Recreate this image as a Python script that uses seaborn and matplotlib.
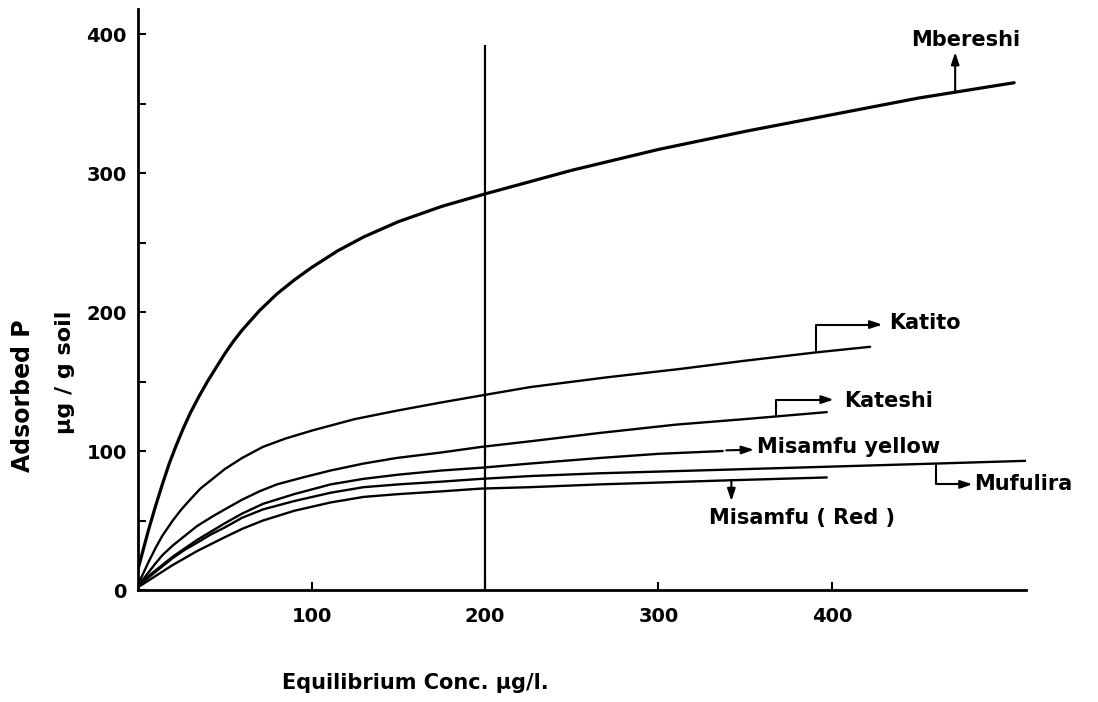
import numpy as np
import pandas as pd
import matplotlib
matplotlib.use("Agg")
import matplotlib.pyplot as plt
import seaborn as sns

# Readings off the isotherms: equilibrium conc. (ug/l) vs adsorbed P (ug/g soil)
mbereshi_x = [0, 3, 6, 10, 14, 18, 22, 26, 30, 35, 40, 45, 50, 55, 60, 70, 80, 90, 100,
              115, 130, 150, 175, 200, 250, 300, 350, 400, 450, 505]
mbereshi_y = [15, 29, 43, 60, 76, 91, 104, 116, 127, 139, 150, 160, 170, 179, 187, 201, 213, 223, 232,
              244, 254, 265, 276, 285, 302, 317, 330, 342, 354, 365]

katito_x = [0, 3, 6, 10, 14, 20, 25, 30, 36, 43, 50, 60, 72, 85, 101, 125, 149, 175, 198,
            226, 270, 312, 350, 391, 422]
katito_y = [4, 12, 20, 30, 39, 50, 58, 65, 73, 80, 87, 95, 103, 109, 115, 123, 129, 135, 140,
            146, 153, 159, 165, 171, 175]

kateshi_x = [0, 5, 10, 14, 20, 25, 30, 34, 43, 50, 60, 70, 80, 95, 111, 130, 149, 175, 198,
             226, 266, 310, 350, 397]
kateshi_y = [3, 11, 19, 25, 32, 37, 42, 46, 53, 58, 65, 71, 76, 81, 86, 91, 95, 99, 103,
             107, 113, 119, 123, 128]

yellow_x = [0, 5, 10, 15, 20, 27, 34, 42, 50, 60, 72, 90, 111, 130, 150, 175, 198, 226, 266, 300, 337]
yellow_y = [3, 9, 14, 19, 24, 30, 36, 42, 48, 55, 62, 69, 76, 80, 83, 86, 88, 91, 95, 98, 100]

mufulira_x = [0, 5, 10, 15, 20, 27, 34, 42, 50, 60, 72, 90, 111, 130, 150, 175, 198, 226, 266,
              350, 460, 513]
mufulira_y = [3, 8, 13, 18, 23, 29, 34, 40, 45, 52, 58, 64, 70, 74, 76, 78, 80, 82, 84,
              87, 91, 93]

red_x = [0, 5, 10, 15, 20, 27, 34, 42, 50, 60, 72, 90, 111, 130, 150, 175, 198, 226, 266, 342, 397]
red_y = [2, 6, 10, 14, 18, 23, 28, 33, 38, 44, 50, 57, 63, 67, 69, 71, 73, 74, 76, 79, 81]

soils = ["Mbereshi", "Katito", "Kateshi", "Misamfu yellow", "Mufulira", "Misamfu ( Red )"]
xs = [mbereshi_x, katito_x, kateshi_x, yellow_x, mufulira_x, red_x]
ys = [mbereshi_y, katito_y, kateshi_y, yellow_y, mufulira_y, red_y]
widths = [2.3, 1.7, 1.7, 1.7, 1.7, 1.7]

ref_conc = 200
ref_top = 392

sns.set_theme(style="ticks", rc={"text.color": "black", "axes.labelcolor": "black",
                                 "xtick.color": "black", "ytick.color": "black",
                                 "axes.edgecolor": "black"})
plt.rcParams["font.family"] = ["DejaVu Sans"]
plt.rcParams["font.weight"] = "bold"

fig = plt.figure(figsize=(10.98, 7.02), dpi=100)
ax = fig.add_axes([0.1257, 0.1595, 0.809, 0.8276])

for name, x, y, lw in zip(soils, xs, ys, widths):
    df = pd.DataFrame({"conc": x, "ads": y})
    sns.lineplot(data=df, x="conc", y="ads", ax=ax, color="black", lw=lw,
                 estimator=None, sort=False)

ax.vlines(ref_conc, 0, ref_top, color="black", lw=1.6)

ax.set_xlim(0, 512)
ax.set_ylim(0, 418)
ax.set_xticks([100, 200, 300, 400])
ax.set_yticks([0, 100, 200, 300, 400])
ax.set_yticks([50, 150, 250, 350], minor=True)
ax.tick_params(axis="both", which="both", direction="in", length=6, width=1.5,
               labelsize=14, color="black", labelcolor="black")
ax.tick_params(axis="x", pad=12)
ax.tick_params(axis="y", pad=8)
for lab in ax.get_xticklabels() + ax.get_yticklabels():
    lab.set_fontweight("bold")
ax.set_xlabel("")
ax.set_ylabel("")
sns.despine(ax=ax)
for s in ["left", "bottom"]:
    ax.spines[s].set_linewidth(2.0)
    ax.spines[s].set_color("black")


def on_curve(i, xv):
    return np.interp(xv, xs[i], ys[i])


arrow = dict(arrowstyle="-|>,head_length=0.6,head_width=0.2", color="black", lw=1.5,
             shrinkA=0, shrinkB=0)
bracket = dict(arrow, connectionstyle="angle,angleA=90,angleB=0,rad=0")
fs = 15

# Mbereshi
ax.annotate("", xy=(471, 387), xytext=(471, on_curve(0, 471)), arrowprops=arrow)
ax.text(477, 396, "Mbereshi", ha="center", va="center", fontsize=fs, fontweight="bold")

# Katito
ax.annotate("", xy=(429, 191), xytext=(391, on_curve(1, 391)), arrowprops=bracket)
ax.text(433, 192, "Katito", ha="left", va="center", fontsize=fs, fontweight="bold")

# Kateshi
ax.annotate("", xy=(401, 137), xytext=(368, on_curve(2, 368)), arrowprops=bracket)
ax.text(407, 136, "Kateshi", ha="left", va="center", fontsize=fs, fontweight="bold")

# Misamfu yellow
ax.annotate("", xy=(355, 101), xytext=(339, 100.5), arrowprops=arrow)
ax.text(357, 103, "Misamfu yellow", ha="left", va="center", fontsize=fs, fontweight="bold")

# Mufulira
ax.annotate("", xy=(481, 76), xytext=(460, on_curve(4, 460)), arrowprops=bracket)
ax.text(482, 76, "Mufulira", ha="left", va="center", fontsize=fs, fontweight="bold")

# Misamfu (Red)
ax.annotate("", xy=(342, 64), xytext=(342, on_curve(5, 342)), arrowprops=arrow)
ax.text(383, 52, "Misamfu ( Red )", ha="center", va="center", fontsize=fs, fontweight="bold")

# axis titles
fig.text(0.378, 0.027, "Equilibrium Conc. \u03bcg/l.", ha="center", va="center",
         fontsize=15, fontweight="bold")
fig.text(0.021, 0.437, "Adsorbed P", rotation=90, ha="center", va="center",
         fontsize=17, fontweight="bold")
fig.text(0.059, 0.469, "\u03bcg / g soil", rotation=90, ha="center", va="center",
         fontsize=16, fontweight="bold")

fig.savefig("out.png", dpi=100, facecolor="white")
